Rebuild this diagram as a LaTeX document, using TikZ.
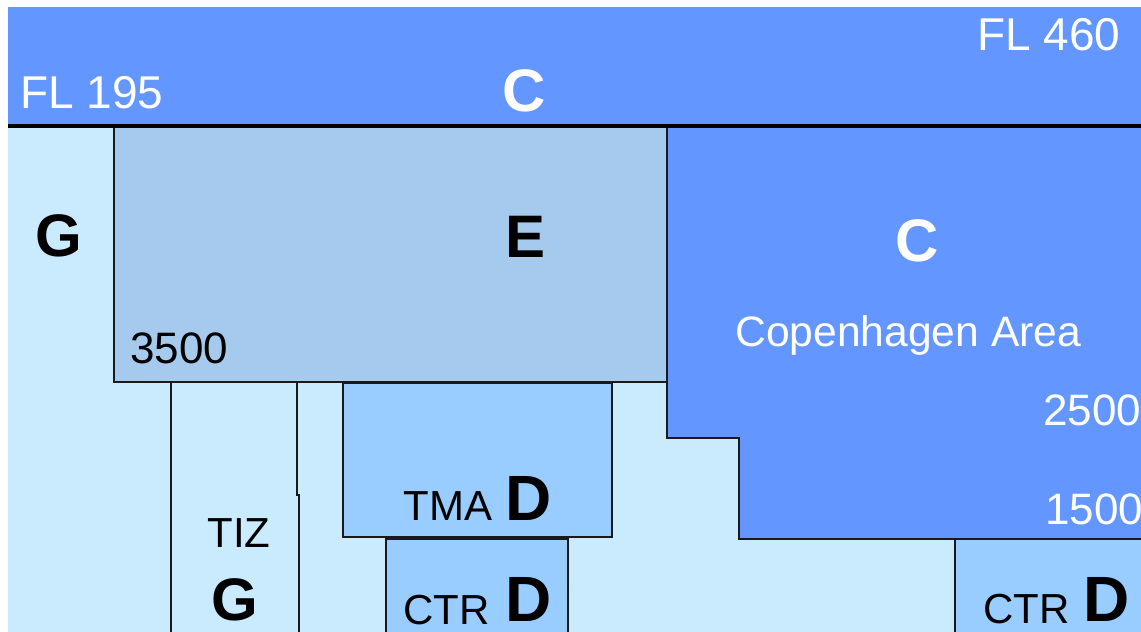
\documentclass[tikz,border=0pt]{standalone}
\usepackage{fontspec}
\setmainfont{Liberation Sans}
\definecolor{classC}{RGB}{100,150,255}
\definecolor{classE}{RGB}{166,202,238}
\definecolor{classD}{RGB}{153,204,255}
\definecolor{classG}{RGB}{202,234,253}

\begin{document}
\begin{tikzpicture}[x=0.5pt,y=-0.5pt,
    edge/.style={draw=black!90,line width=1pt},
    txt/.style={inner sep=0pt,anchor=base west,font=\fontsize{22}{26}\selectfont},
    small/.style={inner sep=0pt,anchor=base west,font=\fontsize{21}{25}\selectfont},
    big/.style={inner sep=0pt,anchor=base west,font=\fontsize{30}{34}\selectfont\bfseries},
    bigD/.style={inner sep=0pt,anchor=base west,font=\fontsize{32}{36}\selectfont\bfseries}]
  \useasboundingbox (0,0) rectangle (1141,632);
  \fill[classG] (8,7) rectangle (1141,632);
  \fill[classC] (8,7) rectangle (1141,126);

  % airspace blocks
  \fill[classE,edge] (114,126) rectangle (667,382);
  \fill[classC,edge] (667,126) -- (1150,126) -- (1150,539) -- (739,539)
    -- (739,438) -- (667,438) -- cycle;
  \fill[classD,edge] (343,383) rectangle (612,537);
  \fill[classD,edge] (386,539) rectangle (568,650);
  \fill[classD,edge] (955,539) rectangle (1150,650);
  \draw[edge] (171,382) -- (171,650);
  \draw[edge] (297,382) -- (297,495) -- (299,495) -- (299,650);
  \draw[line width=2pt] (8,126) -- (1141,126);

  % labels
  \node[txt,text=white,font=\fontsize{23}{26}\selectfont] (fl460) at (977,50) {FL 460};
  \node[txt,text=white,font=\fontsize{23}{26}\selectfont] (fl195) at (20,108) {FL 195};
  \node[big,text=white,anchor=base] (upperC) at (524,111) {C};
  \node[big] (gLeft) at (35,256) {G};
  \node[big] (eLbl) at (505,257) {E};
  \node[txt] (e3500) at (130,363) {3500};
  \node[big,text=white,anchor=base] (cphC) at (917,261) {C};
  \node[txt,text=white,font=\fontsize{21.3}{25}\selectfont] (cphArea) at (735,346) {Copenhagen Area};
  \node[txt,text=white] (c2500) at (1043,425) {2500};
  \node[txt,text=white] (c1500) at (1045,524) {1500};
  \node[small] (tiz) at (207,547) {TIZ};
  \node[big] (tizG) at (211,620) {G};
  \node[small] (tma) at (403,520) {TMA};
  \node[bigD] (tmaD) at (505,520) {D};
  \node[small] (ctr) at (403,624) {CTR};
  \node[bigD] (ctrD) at (505,621) {D};
  \node[small] (ctrR) at (983,623) {CTR};
  \node[bigD] (ctrRD) at (1083,621) {D};
\end{tikzpicture}
\end{document}
